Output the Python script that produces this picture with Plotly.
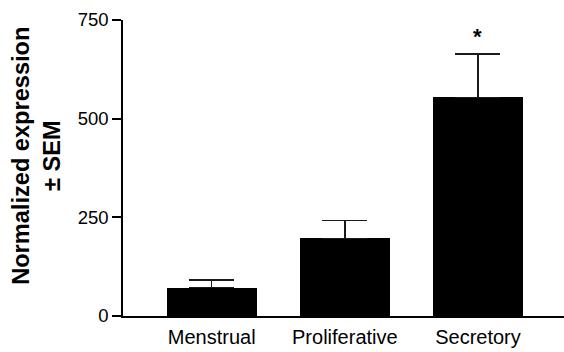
import plotly.graph_objects as go

categories = ["Menstrual", "Proliferative", "Secretory"]
values = [72, 197, 554]
sem = [19, 45, 110]
sem_minus = [0, 0, 0]
y_ticks = [0, 250, 500, 750]
significance = ["", "", "*"]

FONT = "Liberation Sans, Arial, Helvetica, sans-serif"

fig = go.Figure()
fig.add_trace(go.Bar(
    x=categories, y=values, width=0.676,
    marker=dict(color="#000000", line=dict(width=0)),
    error_y=dict(type="data", symmetric=False, array=sem, arrayminus=sem_minus,
                 color="#1a1a1a", thickness=1.5, width=22.5),
))

for cat, v, s, sig in zip(categories, values, sem, significance):
    if sig:
        fig.add_annotation(x=cat, y=v + s, text="<b>" + sig + "</b>", showarrow=False,
                           yanchor="bottom", yshift=3,
                           font=dict(family=FONT, size=22, color="#000000"))

fig.add_annotation(xref="paper", yref="paper", x=-0.195, y=0.541,
                   text="<b>Normalized expression<br>± SEM</b>", textangle=-90,
                   showarrow=False, xanchor="center", yanchor="middle",
                   font=dict(family=FONT, size=23.6, color="#000000"))

fig.update_layout(
    width=564, height=352,
    margin=dict(l=123, r=0, t=20, b=35.5),
    plot_bgcolor="white", paper_bgcolor="white",
    showlegend=False, bargap=0,
    font=dict(family=FONT, color="#000000"),
)
fig.update_xaxes(
    range=[-0.666, 2.646], showgrid=False, zeroline=False,
    showline=True, linecolor="#000000", linewidth=1.5,
    ticks="", ticklabelstandoff=2,
    tickfont=dict(family=FONT, size=20, color="#000000"),
)
fig.update_yaxes(
    range=[0, 750], tickvals=y_ticks, showgrid=False, zeroline=False,
    showline=True, linecolor="#000000", linewidth=1.5,
    ticks="outside", ticklen=9, tickwidth=1.5, tickcolor="#000000",
    tickfont=dict(family=FONT, size=18.5, color="#000000"),
)

fig.write_html("out.html", config={"displayModeBar": False},
               post_script="document.body.style.margin='0';document.body.style.padding='0';")
